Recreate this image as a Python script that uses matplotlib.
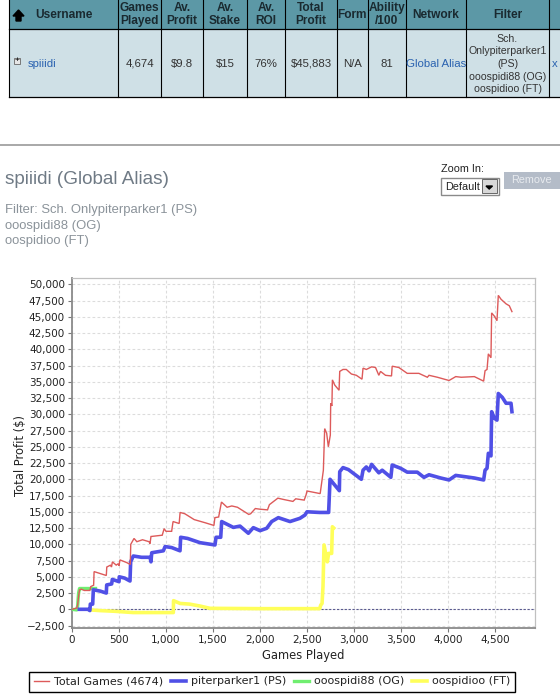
import matplotlib
matplotlib.use("Agg")
import matplotlib.pyplot as plt
from matplotlib.patches import Rectangle
from matplotlib.ticker import FuncFormatter, MultipleLocator

# Table contents
headers = ["Username", "Games\nPlayed", "Av.\nProfit", "Av.\nStake", "Av.\nROI",
           "Total\nProfit", "Form", "Ability\n/100", "Network", "Filter", ""]
row = ["spiiidi", "4,674", "$9.8", "$15", "76%", "$45,883", "N/A", "81", "Global Alias",
       "Sch.\nOnlypiterparker1\n(PS)\nooospidi88 (OG)\noospidioo (FT)", "x"]
col_edges = [9, 118, 161, 203, 247, 285, 337, 368, 406, 466, 549, 560]

# Series
total_x = [0, 50, 60, 70, 80, 100, 130, 190, 200, 230, 235, 300, 365, 370, 410, 420, 430, 470, 490, 500,
           510, 580, 620, 625, 660, 690, 750, 820, 830, 840, 900, 960, 980, 1000, 1060, 1075, 1140, 1150,
           1200, 1300, 1420, 1510, 1520, 1560, 1590, 1650, 1700, 1760, 1880, 1900, 1950, 2000, 2080, 2100,
           2190, 2250, 2350, 2380, 2470, 2490, 2500, 2640, 2660, 2674, 2688, 2709, 2727, 2748, 2752, 2765,
           2770, 2795, 2841, 2848, 2883, 2918, 2972, 3025, 3085, 3096, 3131, 3187, 3229, 3264, 3282, 3335,
           3399, 3406, 3477, 3566, 3655, 3690, 3780, 3798, 3887, 4011, 4082, 4140, 4280, 4379, 4394, 4415,
           4429, 4457, 4464, 4493, 4521, 4535, 4564, 4617, 4652, 4680]
total_y = [0, 200, 700, 2000, 3000, 3100, 2900, 2900, 3500, 3700, 5800, 5500, 5200, 6500, 6800, 6500, 7300,
           6800, 7000, 6700, 7600, 7200, 6900, 10000, 10900, 10400, 10700, 10400, 10100, 11200, 11300, 11400,
           12400, 12000, 12000, 13500, 13200, 14900, 14700, 13800, 13300, 12900, 14100, 14200, 16500, 15700,
           15900, 15700, 14600, 14700, 15500, 15400, 15300, 16100, 17100, 16900, 16600, 17000, 16800, 17600,
           18200, 17800, 19900, 21400, 27800, 27100, 25000, 26800, 31700, 31300, 35300, 34500, 33700, 36600,
           36900, 36900, 36200, 36000, 35400, 37100, 36900, 37300, 37200, 36000, 36600, 36000, 35900, 37400,
           37200, 36300, 36300, 36300, 35700, 36000, 35700, 35200, 35800, 35700, 35800, 35100, 36700, 36900,
           39300, 38700, 45600, 45100, 44400, 48300, 47700, 47000, 46700, 45800]

piter_x = [78, 170, 190, 195, 220, 227, 300, 365, 369, 422, 429, 500, 503, 560, 617, 624, 652, 740, 830,
           840, 848, 972, 990, 1060, 1149, 1156, 1230, 1362, 1521, 1532, 1582, 1592, 1716, 1787, 1876,
           1929, 2000, 2071, 2124, 2195, 2319, 2425, 2478, 2500, 2635, 2730, 2745, 2844, 2848, 2883, 2940,
           3078, 3096, 3131, 3160, 3187, 3264, 3300, 3392, 3406, 3495, 3566, 3673, 3744, 3798, 3922, 4011,
           4082, 4280, 4379, 4394, 4415, 4429, 4457, 4464, 4493, 4521, 4535, 4578, 4617, 4670, 4680]
piter_y = [0, 0, -200, 800, 800, 3000, 2800, 2500, 3750, 3900, 4600, 4250, 5000, 4800, 4350, 7300, 8200,
           8000, 8000, 7300, 8700, 9000, 9650, 9500, 9000, 11080, 10900, 10250, 9900, 11080, 11080, 13500,
           12600, 12800, 11700, 12560, 12100, 12460, 13500, 14100, 13500, 14000, 14500, 15000, 14900, 14900,
           20000, 18250, 21170, 21800, 21500, 20000, 21400, 21900, 21300, 22300, 21000, 21400, 20300, 22200,
           21700, 21100, 21100, 20300, 20700, 20200, 19900, 20600, 20200, 19900, 21400, 21700, 24000, 23600,
           30400, 29400, 29100, 33200, 32600, 31700, 31700, 30400]

ooo_x = [0, 50, 60, 70, 80, 100, 250]
ooo_y = [0, -100, 500, 2500, 3200, 3200, 3200]

oos_x = [200, 300, 450, 650, 1000, 1078, 1080, 1150, 1250, 1362, 1468, 2000, 2635, 2646, 2660, 2670, 2681,
         2716, 2730, 2762, 2770, 2784]
oos_y = [-100, -200, -300, -500, -500, -500, 1330, 900, 800, 500, 150, 100, 100, 650, 900, 3500, 9900, 7300,
         8600, 8600, 12700, 12500]

series_names = ["Total Games (4674)", "piterparker1 (PS)", "ooospidi88 (OG)", "oospidioo (FT)"]

W, H = 560, 697
fig = plt.figure(figsize=(W / 100, H / 100), dpi=100, facecolor="white")

# page layer in pixel coordinates
page = fig.add_axes([0, 0, 1, 1])
page.set_xlim(0, W)
page.set_ylim(H, 0)
page.axis("off")

page.add_patch(Rectangle((9, 0), 551, 29, fc="#5c98a6", ec="none"))
page.add_patch(Rectangle((9, 29), 551, 68, fc="#cfe0e6", ec="none"))
page.plot([9, 560], [29, 29], color="black", lw=0.9)
page.plot([9, 560], [97, 97], color="black", lw=0.9)
for edge in col_edges[:-1]:
    page.plot([edge, edge], [0, 97], color="black", lw=0.8)

sans = "Liberation Sans"
for i, head in enumerate(headers):
    cx = (col_edges[i] + col_edges[i + 1]) / 2
    if i == 0:
        cx = 64
    page.text(cx, 14.5, head, ha="center", va="center", fontsize=8.6, fontweight="bold",
              color="#1a2a30", family=sans, linespacing=1.08)
    link = i in (0, 8, 10)
    cx = (col_edges[i] + col_edges[i + 1]) / 2
    if i == 0:
        cx = 42
    if i == 9:
        page.text(cx, 64, row[i], ha="center", va="center", fontsize=7.6, color="#333333",
                  family=sans, linespacing=1.33)
    else:
        page.text(cx, 64, row[i], ha="center", va="center", fontsize=8.2,
                  color="#2a62b0" if link else "#333333", family=sans)

# sort arrow and expander
page.fill([18.5, 24, 21, 21, 16, 16, 13], [10, 16, 16, 21, 21, 16, 16], color="black")
page.add_patch(Rectangle((14, 58), 5.5, 6, fc="#e6e6e6", ec="#777777", lw=0.7))
page.text(16.7, 60.8, "+", ha="center", va="center", fontsize=6, color="black", family=sans)

# divider, title and filter text
page.plot([0, W], [144.5, 144.5], color="#999999", lw=1.2)
page.text(5, 180, "spiiidi (Global Alias)", fontsize=13.6, color="#6f7a85", va="center", family=sans)
page.text(5, 225.5, "Filter: Sch. Onlypiterparker1 (PS)\nooospidi88 (OG)\noospidioo (FT)", fontsize=9.4,
          color="#8b939a", va="center", family=sans, linespacing=1.42)

# zoom controls
page.text(441, 169, "Zoom In:", fontsize=7.8, color="#222222", va="center", family=sans)
page.add_patch(Rectangle((440.5, 177.5), 58, 17, fc="white", ec="#8a8a8a", lw=1))
page.text(445, 186.5, "Default", fontsize=7.8, color="#222222", va="center", family=sans)
page.add_patch(Rectangle((482, 179), 15, 14, fc="#d8d8d8", ec="#666666", lw=0.7))
page.fill([486, 492.5, 489.2], [186, 186, 189], color="black")
page.add_patch(Rectangle((504, 172), 56, 16.5, fc="#b4bcc8", ec="none"))
page.text(531, 180, "Remove", fontsize=7.8, color="#e8ebef", ha="center", va="center", family=sans)

# chart
left, right, top, bottom = 72, 534.5, 278, 628
ax = fig.add_axes([left / W, 1 - bottom / H, (right - left) / W, (bottom - top) / H])
ax.patch.set_alpha(0)
ax.set_xlim(0, 4920)
ax.set_ylim(-2877, 50970)

ax.plot(oos_x, oos_y, color="#ffff5a", lw=2.6, zorder=3, solid_joinstyle="round")
ax.plot(ooo_x, ooo_y, color="#70ee70", lw=2.4, zorder=4, solid_joinstyle="round")
ax.plot(piter_x, piter_y, color="#5050e6", lw=2.6, zorder=5, solid_joinstyle="round")
ax.plot(total_x, total_y, color="#dd5a5a", lw=1.0, zorder=6, solid_joinstyle="miter")
ax.axhline(0, color="#5a5a90", lw=0.8, ls=(0, (2, 1.5)), zorder=2)

ax.xaxis.set_major_locator(MultipleLocator(500))
ax.yaxis.set_major_locator(MultipleLocator(2500))
ax.set_xticks(range(0, 5000, 500))
ax.xaxis.set_major_formatter(FuncFormatter(lambda v, p: f"{int(v):,}"))
ax.yaxis.set_major_formatter(FuncFormatter(lambda v, p: f"{int(v):,}".replace("-", "\u2212")))
ax.tick_params(labelsize=7.5, length=3, width=0.8, color="#777777", labelcolor="#222222", pad=2)
ax.grid(True, color="#dcdcdc", lw=0.8, ls=(0, (2.5, 2)), zorder=0)
ax.set_axisbelow(True)
for name, spine in ax.spines.items():
    spine.set_color("#c0c0c0" if name in ("top", "right") else "#8a8a8a")
    spine.set_linewidth(0.9 if name in ("top", "right") else 1.3)
ax.set_xlabel("Games Played", fontsize=8.3, color="#222222")
ax.set_ylabel("Total Profit ($)", fontsize=8.3, color="#222222")
ax.xaxis.set_label_coords((303 - left) / (right - left), (bottom - 655) / (bottom - top), )
ax.yaxis.set_label_coords((20.5 - left) / (right - left), (bottom - 455) / (bottom - top))
ax.xaxis.label.set_va("center")
ax.yaxis.label.set_va("center")

handles = [
    plt.Line2D([], [], color="#dd5a5a", lw=1.0),
    plt.Line2D([], [], color="#5050e6", lw=2.6),
    plt.Line2D([], [], color="#70ee70", lw=2.4),
    plt.Line2D([], [], color="#ffff5a", lw=2.6),
]
leg = ax.legend(handles, series_names, ncol=4, loc="center", fontsize=8,
                bbox_to_anchor=(272 / W, 1 - 681.5 / H), bbox_transform=fig.transFigure,
                frameon=True, fancybox=False, edgecolor="black", framealpha=1,
                handlelength=1.4, handletextpad=0.4, columnspacing=0.7, borderpad=0.45)
leg.get_frame().set_linewidth(1.0)
for t in leg.get_texts():
    t.set_color("#222222")

fig.savefig("out.png", dpi=100)
